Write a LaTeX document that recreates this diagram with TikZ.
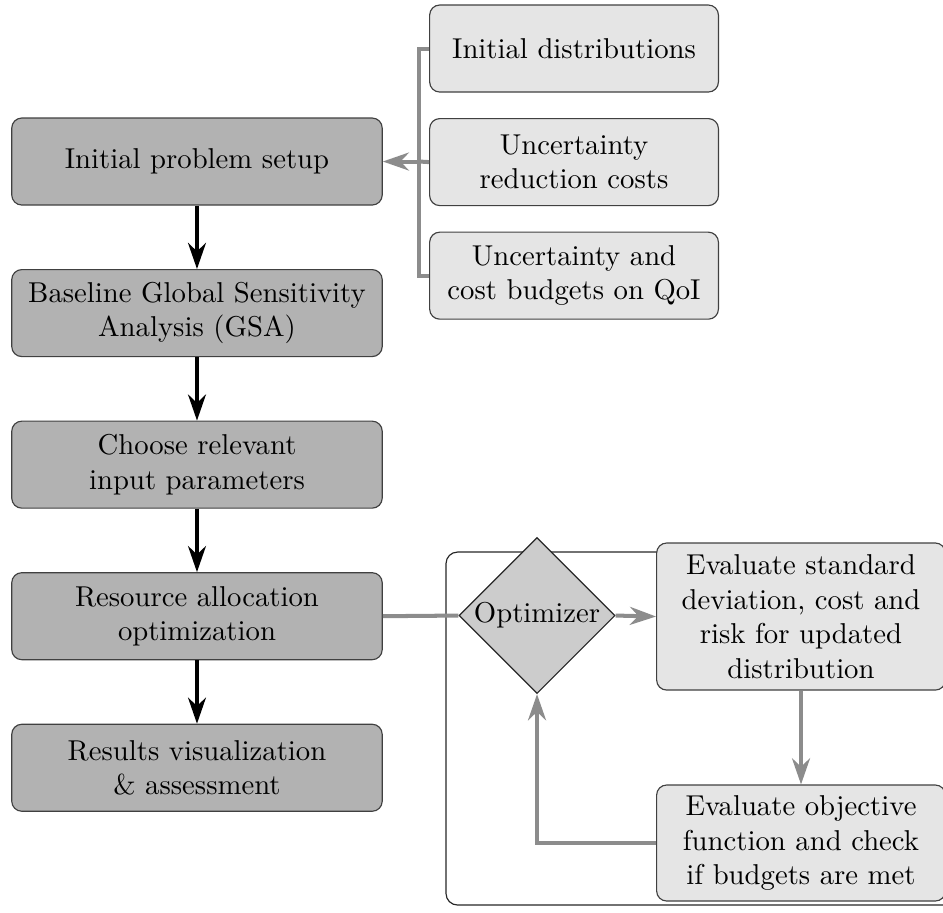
\documentclass[tikz,border=0pt]{standalone}
\usepackage{amssymb, amsmath}
\usetikzlibrary{shapes.geometric, arrows.meta, positioning}

\begin{document}
\begin{tikzpicture}[node distance=1.855cm,
  stepbox/.style={rectangle, rounded corners=3.5pt, draw=black!75, fill=black!30, minimum width=4.5cm, minimum height=1.065cm, text width=4.3cm, align=center},
  inbox/.style={rectangle, rounded corners=3.5pt, draw=black!75, fill=black!10, minimum width=3.45cm, minimum height=1.065cm, text width=3.3cm, align=center},
  optbox/.style={diamond, aspect=1, draw=black!85, fill=black!20, inner sep=0pt, minimum size=1.91cm},
  mainarrow/.style={-{Stealth[length=3.2mm, width=2.2mm]}, line width=1.1pt, black},
  greyline/.style={line width=1.4pt, black!45},
  greyarrow/.style={greyline, -{Stealth[length=3.2mm, width=2.2mm]}}]
  \useasboundingbox (0,0) rectangle (11.542,-11.163);

  \node[stepbox] (setup) at (2.411,-1.977) {Initial problem setup};
  \node[stepbox] (gsa) [below of=setup] {Baseline Global Sensitivity\\ Analysis (GSA)};
  \node[stepbox] (choose) [below of=gsa] {Choose relevant\\ input parameters};
  \node[stepbox] (alloc) [below of=choose] {Resource allocation\\ optimization};
  \node[stepbox] (results) [below of=alloc] {Results visualization\\ \& assessment};

  \node[inbox] (dist) at (7.026,-0.594) {Initial distributions};
  \node[inbox] (costs) [below of=dist, node distance=1.39cm] {Uncertainty\\ reduction costs};
  \node[inbox] (budgets) [below of=costs, node distance=1.39cm] {Uncertainty and\\ cost budgets on QoI};
  \coordinate (bus) at (5.129,-1.977);

  \draw[rounded corners=4pt, black!85] (5.459,-6.757) rectangle (12.2,-11.077);
  \node[optbox] (opt) at (6.573,-7.534) {Optimizer};
  \node[inbox, minimum height=1.8cm] (evalsd) at (9.804,-7.546) {Evaluate standard\\ deviation, cost and\\ risk for updated\\ distribution};
  \node[inbox, minimum height=1.42cm] (evalobj) at (9.804,-10.318) {Evaluate objective\\ function and check\\ if budgets are met};

  \path[mainarrow] (setup) edge (gsa);
  \path[mainarrow] (gsa) edge (choose);
  \path[mainarrow] (choose) edge (alloc);
  \path[mainarrow] (alloc) edge (results);

  \draw[greyline] (dist.west) -| (bus);
  \draw[greyline] (budgets.west) -| (bus);
  \draw[greyline] (costs.west) -- (bus);
  \draw[greyarrow] (bus) -- (setup.east);

  \draw[greyline] (alloc.east) -- (opt.west);
  \draw[greyarrow] (opt.east) -- (evalsd.west);
  \draw[greyarrow] (evalsd.south) -- (evalobj.north);
  \draw[greyarrow] (evalobj.west) -| (opt.south);
\end{tikzpicture}
\end{document}
